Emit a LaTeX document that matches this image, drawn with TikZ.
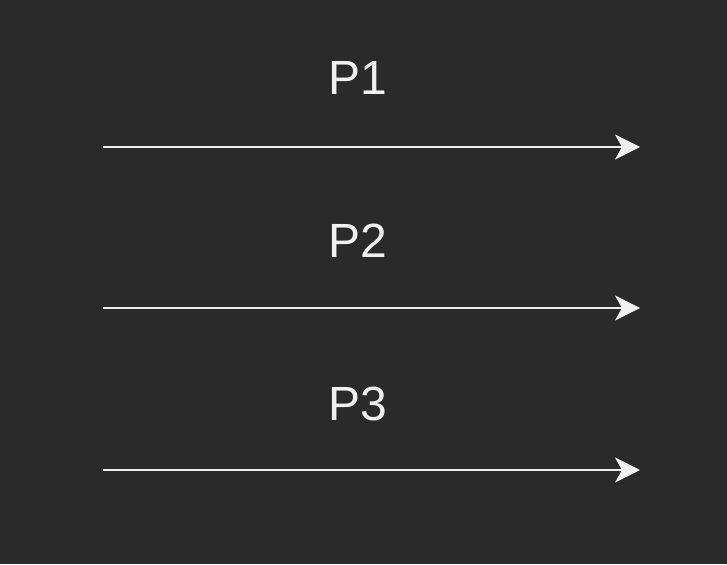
\documentclass[tikz,border=0pt]{standalone}
\usepackage{fontspec}
\setmainfont{Liberation Sans}
\usetikzlibrary{arrows.meta}
\definecolor{bg}{HTML}{2A2A2A}
\definecolor{fg}{HTML}{F0F0F0}
\begin{document}
\begin{tikzpicture}[x=1pt,y=1pt,
  lbl/.style={text=fg,font=\fontsize{48}{48}\selectfont,inner sep=0pt,anchor=base},
  arr/.style={draw=fg,line width=2pt,-{Stealth[length=25pt,width=25pt,inset=7pt]}}]
\fill[bg] (0,0) rectangle (727,-564);
\useasboundingbox (0,0) rectangle (727,-564);
\foreach \i/\yl/\ya in {1/95/147,2/257/308,3/420/470}{
  \node[lbl] (p\i) at (358,-\yl) {P\i};
  \coordinate (s\i) at (103,-\ya);
  \coordinate (e\i) at (640,-\ya);
  \draw[arr] (s\i) -- (e\i);
}
\end{tikzpicture}
\end{document}
